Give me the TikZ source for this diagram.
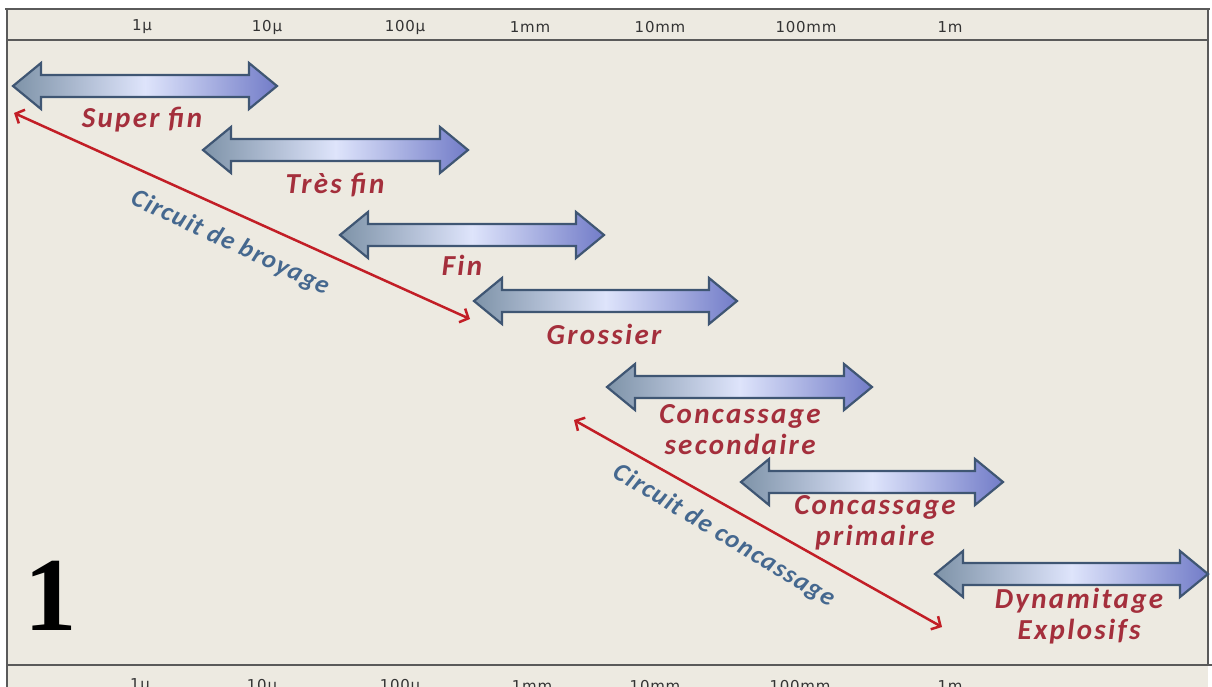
\documentclass[tikz,border=0pt]{standalone}
\usepackage{fontspec}
\setmainfont{Liberation Serif}
\newfontfamily\labfont[LetterSpace=8]{Carlito}
\newfontfamily\circfont[LetterSpace=5]{Carlito}
\newfontfamily\scalefont[LetterSpace=5]{DejaVu Sans}
\usetikzlibrary{arrows.meta}
\definecolor{bg}{HTML}{EDEAE1}
\definecolor{frameline}{HTML}{5A5A5A}
\definecolor{arrline}{HTML}{3F5673}
\definecolor{agrey}{HTML}{7E93A8}
\definecolor{alight}{HTML}{DEE4FB}
\definecolor{ablue}{HTML}{727CC8}
\definecolor{arred}{HTML}{C21E26}
\definecolor{labred}{HTML}{A42F3C}
\definecolor{circblue}{HTML}{45688F}
\definecolor{scaletext}{HTML}{333333}
\tikzset{
  frame/.style={draw=frameline, line width=2pt},
  blockarr/.style={draw=arrline, line width=2.2pt, line join=miter,
    left color=agrey, right color=ablue, middle color=alight},
  redarr/.style={draw=arred, line width=2.5pt,
    {Straight Barb[length=7pt,width=15pt,line width=2.5pt]}-{Straight Barb[length=7pt,width=15pt,line width=2.5pt]}},
  lab/.style={font=\labfont\bfseries\itshape\fontsize{29}{31}\selectfont, text=labred, align=center, inner sep=0pt},
  circ/.style={font=\circfont\bfseries\itshape\fontsize{26}{28}\selectfont, text=circblue, inner sep=0pt},
  scl/.style={font=\scalefont\fontsize{15}{16}\selectfont, text=scaletext, inner sep=0pt},
}
\newcommand\blockarrow[3]{%
  \path[blockarr] (#1,#3) -- (#1+28,#3-23) -- (#1+28,#3-11) -- (#2-28,#3-11)
    -- (#2-28,#3-23) -- (#2,#3) -- (#2-28,#3+23) -- (#2-28,#3+11)
    -- (#1+28,#3+11) -- (#1+28,#3+23) -- cycle;}
\begin{document}
\begin{tikzpicture}[x=1pt,y=-1pt]
\useasboundingbox (0,0) rectangle (1212,686);
\fill[white] (0,0) rectangle (1212,686);
\fill[bg] (7,9) rectangle (1208,690);
% frame
\draw[frame] (5,9) -- (1210,9);
\draw[frame] (7,40) -- (1208,40);
\draw[frame] (7,665) -- (1212,665);
\draw[frame] (7,9) -- (7,690);
\draw[frame] (1208,9) -- (1208,665);
% scale labels top
\node[scl] (t1) at (142,27) {1µ};
\node[scl] (t2) at (267,27) {10µ};
\node[scl] (t3) at (405,27) {100µ};
\node[scl] (t4) at (530,27) {1mm};
\node[scl] (t5) at (660,27) {10mm};
\node[scl] (t6) at (806,27) {100mm};
\node[scl] (t7) at (950,27) {1m};
% scale labels bottom
\node[scl] (u1) at (140,686) {1µ};
\node[scl] (u2) at (262,686) {10µ};
\node[scl] (u3) at (400,686) {100µ};
\node[scl] (u4) at (532,686) {1mm};
\node[scl] (u5) at (655,686) {10mm};
\node[scl] (u6) at (800,686) {100mm};
\node[scl] (u7) at (950,686) {1m};
% block arrows
\blockarrow{13}{277}{86}
\blockarrow{203}{468}{150}
\blockarrow{340}{604}{235}
\blockarrow{474}{737}{301}
\blockarrow{607}{872}{387}
\blockarrow{741}{1003}{482}
\blockarrow{935}{1208}{574}
% labels
\node[lab] (sf) at (142,120) {Super fin};
\node[lab] (tf) at (335,185) {Très fin};
\node[lab] (fi) at (462,265) {Fin};
\node[lab] (gr) at (604,334) {Grossier};
\node[lab] (cs) at (740,430) {Concassage\\secondaire};
\node[lab] (cp) at (875,523) {Concassage\\primaire};
\node[lab] (dy) at (1079,616) {Dynamitage\\Explosifs};
% red connectors
\coordinate (b1) at (14,113);
\coordinate (b2) at (470,319);
\coordinate (c1) at (574,420);
\coordinate (c2) at (942,627);
\draw[redarr] (b1) -- (b2);
\draw[redarr] (c1) -- (c2);
\node[circ, rotate=-25] (cb) at (230,243) {Circuit de broyage};
\node[circ, rotate=-31] (cc) at (724,536) {Circuit de concassage};
% big number
\node[font=\bfseries\fontsize{105}{105}\selectfont, inner sep=0pt] (one) at (51,596) {1};
\end{tikzpicture}
\end{document}
